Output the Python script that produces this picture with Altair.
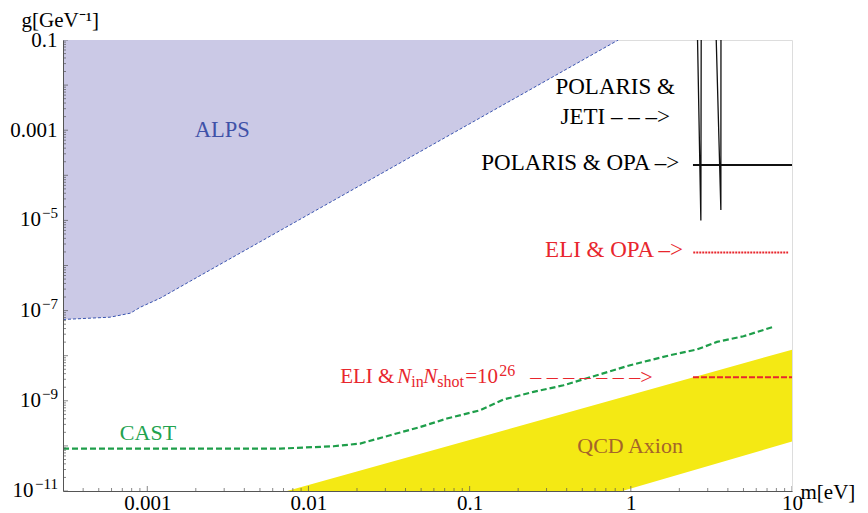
import altair as alt
import pandas as pd
import numpy as np

FONT = "Liberation Serif"

# ---------------- data ----------------
# ALPS excluded region (lower boundary, filled up to top)
alps_m = [3.0e-4, 5.89e-4, 7.85e-4, 9.06e-4, 1.205e-3, 1.85e-3, 0.836]
alps_g = [6.35e-8, 7.15e-8, 8.77e-8, 1.19e-7, 1.89e-7, 4.5e-7, 0.1]

# CAST limit
cast_m = [3.0e-4, 6.68e-3, 0.01432, 0.02094, 0.03214, 0.04943, 0.07228, 0.1164,
          0.1622, 0.2489, 0.3828, 0.6166, 0.9908, 1.754, 2.570, 3.420, 5.000, 7.534]
cast_g = [8.73e-11, 8.71e-11, 9.82e-11, 1.127e-10, 1.722e-10, 2.63e-10, 4.04e-10, 6.18e-10,
          1.067e-9, 1.574e-9, 2.213e-9, 3.69e-9, 6.15e-9, 1.026e-8, 1.371e-8, 2.023e-8,
          2.704e-8, 4.285e-8]

# QCD axion band
qcd_m = [0.00736, 0.885, 10.0]
qcd_upper = [1e-11, 1.2e-9, 1.36e-8]
qcd_lower = [1e-11, 1e-11, 1.25e-10]

# POLARIS & JETI (two narrow V-shaped curves)
jeti_id = [1, 1, 1, 2, 2, 2]
jeti_m = [2.594, 2.72, 2.733, 3.388, 3.62, 3.625]
jeti_g = [0.1, 1.0e-5, 0.1, 0.1, 1.7e-5, 0.1]

# horizontal sensitivity lines
polaris_opa_m = [2.43, 10.0]
polaris_opa_g = [1.69e-4, 1.69e-4]
eli_opa_m = [2.44, 9.46]
eli_opa_g = [1.95e-6, 1.95e-6]
eli_n_m = [2.43, 10.0]
eli_n_g = [3.33e-9, 3.33e-9]

# axis ticks / labels
x_label_vals = [1e-3, 1e-2, 0.1, 1, 10]
x_label_txt = ["0.001", "0.01", "0.1", "1", "10"]
y_label_vals = [0.1, 1e-3]
y_label_txt = ["0.1", "0.001"]
y_pow_vals_a = [1e-5, 1e-7, 1e-9]       # "10" with one-digit exponent
y_pow_vals_b = [1e-11]                  # "10" with two-digit exponent
y_exp_vals = [1e-5, 1e-7, 1e-9, 1e-11]
y_exp_txt = ["\u22125", "\u22127", "\u22129", "\u221211"]

x_major = [10.0 ** k for k in range(-3, 2)]
x_minor = [j * 10.0 ** k for k in range(-4, 1) for j in range(2, 10) if 3e-4 <= j * 10.0 ** k <= 10]
y_major = [10.0 ** k for k in range(-11, 0)]
y_minor = [j * 10.0 ** k for k in range(-11, -1) for j in range(2, 10)]

# ---------------- scales / axes ----------------
xs = alt.Scale(type="log", domain=[3e-4, 10], nice=False)
ys = alt.Scale(type="log", domain=[1e-11, 0.1], nice=False)


def lab_expr(vals, txts):
    expr = "''"
    for v, t in zip(vals, txts):
        expr = f"abs(log(datum.value)/LN10 - ({np.log10(v):.4f})) < 0.01 ? '{t}' : " + expr
    return expr


xaxis = alt.Axis(values=x_label_vals, labelExpr=lab_expr(x_label_vals, x_label_txt),
                 ticks=False, grid=False, domainColor="#555555", domainWidth=1,
                 labelFont=FONT, labelFontSize=21, labelColor="black", labelPadding=18,
                 labelBaseline="alphabetic", labelFlush=False, labelOverlap=False,
                 title="m[eV]", titleFont=FONT, titleFontSize=21, titleFontWeight="normal",
                 titleColor="black", titleAlign="left", titleBaseline="alphabetic",
                 titleX=737, titleY=7, titleAngle=0, zindex=1)
yaxis = alt.Axis(values=y_label_vals, labelExpr=lab_expr(y_label_vals, y_label_txt),
                 ticks=False, grid=False, domainColor="#555555", domainWidth=1,
                 labelFont=FONT, labelFontSize=21, labelColor="black", labelPadding=6,
                 labelFlush=False, labelOverlap=False,
                 title="g[GeV\u207b\u00b9]", titleFont=FONT, titleFontSize=21,
                 titleFontWeight="normal", titleColor="black", titleAlign="left",
                 titleBaseline="alphabetic", titleX=-42, titleY=-14, titleAngle=0, zindex=1)


def X(field="m"):
    return alt.X(f"{field}:Q", scale=xs, axis=xaxis, title="m[eV]")


def Y(field="g"):
    return alt.Y(f"{field}:Q", scale=ys, axis=yaxis, title="g[GeV\u207b\u00b9]")


# ---------------- layers ----------------
alps_df = pd.DataFrame({"m": alps_m, "g": alps_g})
alps_area = alt.Chart(alps_df).mark_area(color="#CBC9E6", opacity=1, clip=True).encode(
    x=X(), y=Y(), y2=alt.datum(0.1),
)
alps_line = alt.Chart(alps_df).mark_line(color="#3A55B0", strokeWidth=1, strokeDash=[3, 2], clip=True).encode(
    x=X(), y=Y()
)

qcd_df = pd.DataFrame({"m": qcd_m, "g": qcd_upper, "lo": qcd_lower})
qcd_area = alt.Chart(qcd_df).mark_area(color="#F4E914", opacity=1, clip=True).encode(
    x=X(), y=Y(), y2="lo:Q",
)

cast_df = pd.DataFrame({"m": cast_m, "g": cast_g})
cast_line = alt.Chart(cast_df).mark_line(color="#1E9E4A", strokeWidth=2.2, strokeDash=[6, 3], clip=True).encode(
    x=X(), y=Y()
)

jeti_df = pd.DataFrame({"id": jeti_id, "m": jeti_m, "g": jeti_g, "o": list(range(len(jeti_m)))})
jeti_line = alt.Chart(jeti_df).mark_line(color="#111111", strokeWidth=1.3, clip=True).encode(
    x=X(), y=Y(), detail="id:N", order="o:Q"
)


def hline(m, g, color, width, dash=None):
    df = pd.DataFrame({"m": m, "g": g})
    kw = dict(color=color, strokeWidth=width, clip=True)
    if dash:
        kw["strokeDash"] = dash
    return alt.Chart(df).mark_line(**kw).encode(x=X(), y=Y())


RED = "#E8262D"
pol_line = hline(polaris_opa_m, polaris_opa_g, "#111111", 2.2)
eli_opa_line = hline(eli_opa_m, eli_opa_g, RED, 2, [2, 1])
eli_n_line = hline(eli_n_m, eli_n_g, RED, 2, [6, 2])


def label(text, m, g, color, size=22, align="center", dx=0, dy=0, italic=False):
    df = pd.DataFrame({"m": [m], "g": [g], "t": [text]})
    return alt.Chart(df).mark_text(
        font=FONT, fontSize=size, color=color, align=align, baseline="middle",
        dx=dx, dy=dy, fontStyle="italic" if italic else "normal"
    ).encode(x=X(), y=Y(), text="t:N")


EN = "\u2013"
ELI_M, ELI_G = 0.01574, 3.33e-9
labels = [
    label("ALPS", 2.92e-3, 1.0e-3, "#3F51A8", size=22.5),
    label("CAST", 1.01e-3, 1.9e-10, "#22A24E"),
    label("QCD Axion", 0.99, 1.0e-10, "#A5652A"),
    label("POLARIS &", 0.80, 9.2e-3, "black", size=23),
    label(f"JETI {EN} {EN} {EN}>", 0.80, 2.0e-3, "black", size=23),
    label(f"POLARIS & OPA {EN}>", 2.0, 1.9e-4, "black", size=23, align="right"),
    label(f"ELI & OPA {EN}>", 2.11, 2.19e-6, RED, size=23, align="right"),
    # composite "ELI & N_in N_shot = 10^26 ---->"
    label("ELI &", ELI_M, ELI_G, RED, size=21, align="left"),
    label("N", ELI_M, ELI_G, RED, size=21, align="left", dx=57, italic=True),
    label("in", ELI_M, ELI_G, RED, size=16, align="left", dx=71, dy=5),
    label("N", ELI_M, ELI_G, RED, size=21, align="left", dx=83, italic=True),
    label("shot", ELI_M, ELI_G, RED, size=16, align="left", dx=97, dy=5),
    label("=10", ELI_M, ELI_G, RED, size=21, align="left", dx=125),
    label("26", ELI_M, ELI_G, RED, size=16, align="left", dx=159, dy=-6),
    label(" ".join([EN] * 7) + ">", ELI_M, ELI_G, RED, size=22, align="left", dx=190),
]

# power-of-ten y tick labels: "10" plus a raised exponent
ypow_a = alt.Chart(pd.DataFrame({"g": y_pow_vals_a})).mark_text(
    font=FONT, fontSize=21, color="black", align="right", baseline="middle", clip=False,
    text="10").encode(y=Y(), x=alt.value(-22))
ypow_b = alt.Chart(pd.DataFrame({"g": y_pow_vals_b})).mark_text(
    font=FONT, fontSize=21, color="black", align="right", baseline="middle", clip=False,
    text="10").encode(y=Y(), x=alt.value(-29.5))
yexp = alt.Chart(pd.DataFrame({"g": y_exp_vals, "t": y_exp_txt})).mark_text(
    font=FONT, fontSize=15, color="black", align="right", baseline="middle",
    dy=-7, clip=False).encode(y=Y(), x=alt.value(-5), text="t:N")

# inward log ticks
TICK = "#555555"
xt_major = alt.Chart(pd.DataFrame({"m": x_major})).mark_tick(
    orient="vertical", color=TICK, size=5, thickness=1, clip=True).encode(
    x=X(), y=alt.value(451 - 2.5))
xt_minor = alt.Chart(pd.DataFrame({"m": x_minor})).mark_tick(
    orient="vertical", color=TICK, size=3, thickness=1, clip=True).encode(
    x=X(), y=alt.value(451 - 1.5))
yt_major = alt.Chart(pd.DataFrame({"g": y_major})).mark_tick(
    orient="horizontal", color=TICK, size=5, thickness=1, clip=True).encode(
    y=Y(), x=alt.value(2.5))
yt_minor = alt.Chart(pd.DataFrame({"g": y_minor})).mark_tick(
    orient="horizontal", color=TICK, size=3, thickness=1, clip=True).encode(
    y=Y(), x=alt.value(1.5))

chart = alt.layer(
    alps_area, alps_line, qcd_area, cast_line, jeti_line, pol_line, eli_opa_line, eli_n_line,
    *labels, ypow_a, ypow_b, yexp, xt_major, xt_minor, yt_major, yt_minor
).properties(
    width=729, height=451, autosize="none",
    padding={"left": 55, "top": 32, "right": 68, "bottom": 28},
).configure_view(stroke=None).configure(background="white")

chart.save("out.html", embed_options={"renderer": "svg", "actions": False})
